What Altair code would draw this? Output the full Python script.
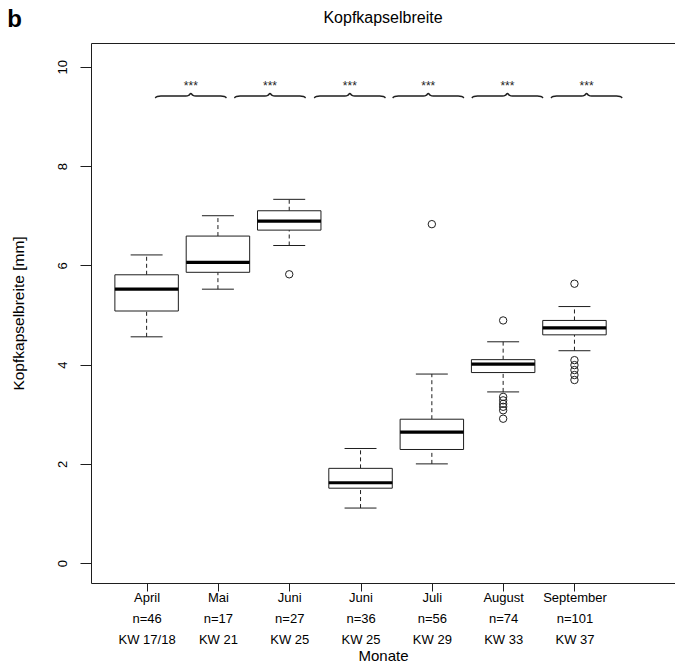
import altair as alt
import pandas as pd

# ---- data ----
months = ["April", "Mai", "Juni", "Juni", "Juli", "August", "September"]
n_values = [46, 17, 27, 36, 56, 74, 101]
kw_labels = ["KW 17/18", "KW 21", "KW 25", "KW 25", "KW 29", "KW 33", "KW 37"]
positions = [1, 2, 3, 4, 5, 6, 7]

lower_whisker = [4.56, 5.52, 6.40, 1.11, 2.00, 3.45, 4.28]
q1 = [5.08, 5.86, 6.71, 1.51, 2.29, 3.84, 4.60]
median = [5.52, 6.06, 6.89, 1.62, 2.64, 4.01, 4.74]
q3 = [5.81, 6.59, 7.10, 1.91, 2.90, 4.10, 4.89]
upper_whisker = [6.21, 7.00, 7.33, 2.31, 3.81, 4.46, 5.17]

outlier_pos = [3, 5, 6, 6, 6, 6, 6, 6, 6, 7, 7, 7, 7, 7, 7]
outlier_val = [5.82, 6.83, 4.89, 3.35, 3.28, 3.21, 3.15, 3.08, 2.91,
               5.63, 4.09, 3.99, 3.89, 3.79, 3.69]

brace_centers = [1.62, 2.73, 3.85, 4.95, 6.06, 7.17]
brace_labels = ["***", "***", "***", "***", "***", "***"]
brace_level = 9.41
star_level = 9.61

y_ticks = [0, 2, 4, 6, 8, 10]
chart_title = "Kopfkapselbreite"
panel_letter = "b"

# ---- styling ----
FONT = "Liberation Sans"
INK = "#1e1e1e"
BOX_HALF = 0.445
CAP_HALF = 0.224

box_df = pd.DataFrame({
    "pos": positions, "lo": lower_whisker, "q1": q1, "med": median,
    "q3": q3, "hi": upper_whisker,
})
out_df = pd.DataFrame({"pos": outlier_pos, "val": outlier_val})

# brace glyph (relative offsets, shape only)
brace_shape_dx = [-0.50, -0.47, -0.42, -0.07, -0.025, 0.0, 0.025, 0.07, 0.42, 0.47, 0.50]
brace_shape_dy = [-0.035, -0.008, 0.0, 0.0, 0.02, 0.055, 0.02, 0.0, 0.0, -0.008, -0.035]
rows = []
for b, c in enumerate(brace_centers):
    for i, (dx, dy) in enumerate(zip(brace_shape_dx, brace_shape_dy)):
        rows.append({"brace": b, "i": i, "x": c + dx, "y": brace_level + dy})
brace_df = pd.DataFrame(rows)
star_df = pd.DataFrame({"x": brace_centers, "y": [star_level] * len(brace_centers),
                        "t": brace_labels})

x_scale = alt.Scale(domain=[0.22, 8.41], nice=False, zero=False)
y_scale = alt.Scale(domain=[-0.4, 10.48], nice=False, zero=False)

label_arrays = "[" + ",".join(
    f"['{m}','n={n}','{k}']" for m, n, k in zip(months, n_values, kw_labels)
) + "]"

x_axis = alt.Axis(
    values=positions, labelExpr=f"{label_arrays}[round(datum.value)-1]",
    title="Monate", grid=False, domain=False, tickSize=8, tickColor=INK,
    labelFont=FONT, labelFontSize=13, labelLineHeight=21, labelColor="black",
    labelPadding=0, labelOverlap=False, labelFlush=False, labelBaseline="top",
    titleFont=FONT, titleFontSize=15, titleFontWeight="normal", titleColor="black",
    titleY=72, titleBaseline="middle",
)
y_axis = alt.Axis(
    values=y_ticks, title="Kopfkapselbreite [mm]", grid=False, domain=False,
    tickSize=11, tickColor=INK, labelAngle=270, labelAlign="center",
    labelBaseline="bottom", labelPadding=11, labelFont=FONT, labelFontSize=13,
    labelColor="black", labelFlush=False,
    titleFont=FONT, titleFontSize=15.5, titleFontWeight="normal", titleColor="black",
    titleX=-73, titleY=270, titleAngle=270, titleAlign="center", titleBaseline="middle",
)


def X(field):
    return alt.X(field, scale=x_scale, axis=x_axis)


def Y(field):
    return alt.Y(field, scale=y_scale, axis=y_axis)


base = alt.Chart(box_df).transform_calculate(
    x1=f"datum.pos - {BOX_HALF}", x2=f"datum.pos + {BOX_HALF}",
    c1=f"datum.pos - {CAP_HALF}", c2=f"datum.pos + {CAP_HALF}",
)

whisk_up = base.mark_rule(color=INK, strokeWidth=1, strokeDash=[4, 3]).encode(
    x=X("pos:Q"), y=Y("q3:Q"), y2="hi:Q",
)
whisk_lo = base.mark_rule(color=INK, strokeWidth=1, strokeDash=[4, 3]).encode(
    x=X("pos:Q"), y=Y("lo:Q"), y2="q1:Q",
)
cap_up = base.mark_rule(color=INK, strokeWidth=1).encode(
    x=X("c1:Q"), x2="c2:Q", y=Y("hi:Q"),
)
cap_lo = base.mark_rule(color=INK, strokeWidth=1).encode(
    x=X("c1:Q"), x2="c2:Q", y=Y("lo:Q"),
)
boxes = base.mark_rect(fill="white", stroke=INK, strokeWidth=1).encode(
    x=X("x1:Q"), x2="x2:Q", y=Y("q1:Q"), y2="q3:Q",
)
medians = base.mark_rule(color="black", strokeWidth=3.2).encode(
    x=X("x1:Q"), x2="x2:Q", y=Y("med:Q"),
)
outliers = alt.Chart(out_df).mark_point(
    shape="circle", filled=False, size=55, stroke=INK, strokeWidth=1, opacity=1
).encode(x=X("pos:Q"), y=Y("val:Q"))
braces = alt.Chart(brace_df).mark_line(
    color=INK, strokeWidth=1.5, interpolate="monotone"
).encode(x=X("x:Q"), y=Y("y:Q"), detail="brace:N", order="i:Q")
stars = alt.Chart(star_df).mark_text(
    font=FONT, fontSize=12, color=INK, baseline="middle", align="center"
).encode(x=X("x:Q"), y=Y("y:Q"), text="t:N")
panel = alt.Chart(pd.DataFrame({"t": [panel_letter]})).mark_text(
    font=FONT, fontSize=24, fontWeight="bold", color="black",
    align="center", baseline="alphabetic",
).encode(x=alt.value(-76.5), y=alt.value(-16), text="t:N")
title = alt.Chart(pd.DataFrame({"t": [chart_title]})).mark_text(
    font=FONT, fontSize=16, color="black", align="center", baseline="middle",
).encode(x=alt.value(292), y=alt.value(-25), text="t:N")

chart = alt.layer(
    whisk_up, whisk_lo, cap_up, cap_lo, boxes, medians, outliers, braces, stars,
    panel, title
).properties(
    width=584, height=540,
    autosize=alt.AutoSizeParams(type="none"),
    padding={"left": 83, "top": 35, "right": 0, "bottom": 83},
).configure_view(stroke=INK, strokeWidth=1)

chart.save("out.html", embed_options={"renderer": "svg", "actions": False})
